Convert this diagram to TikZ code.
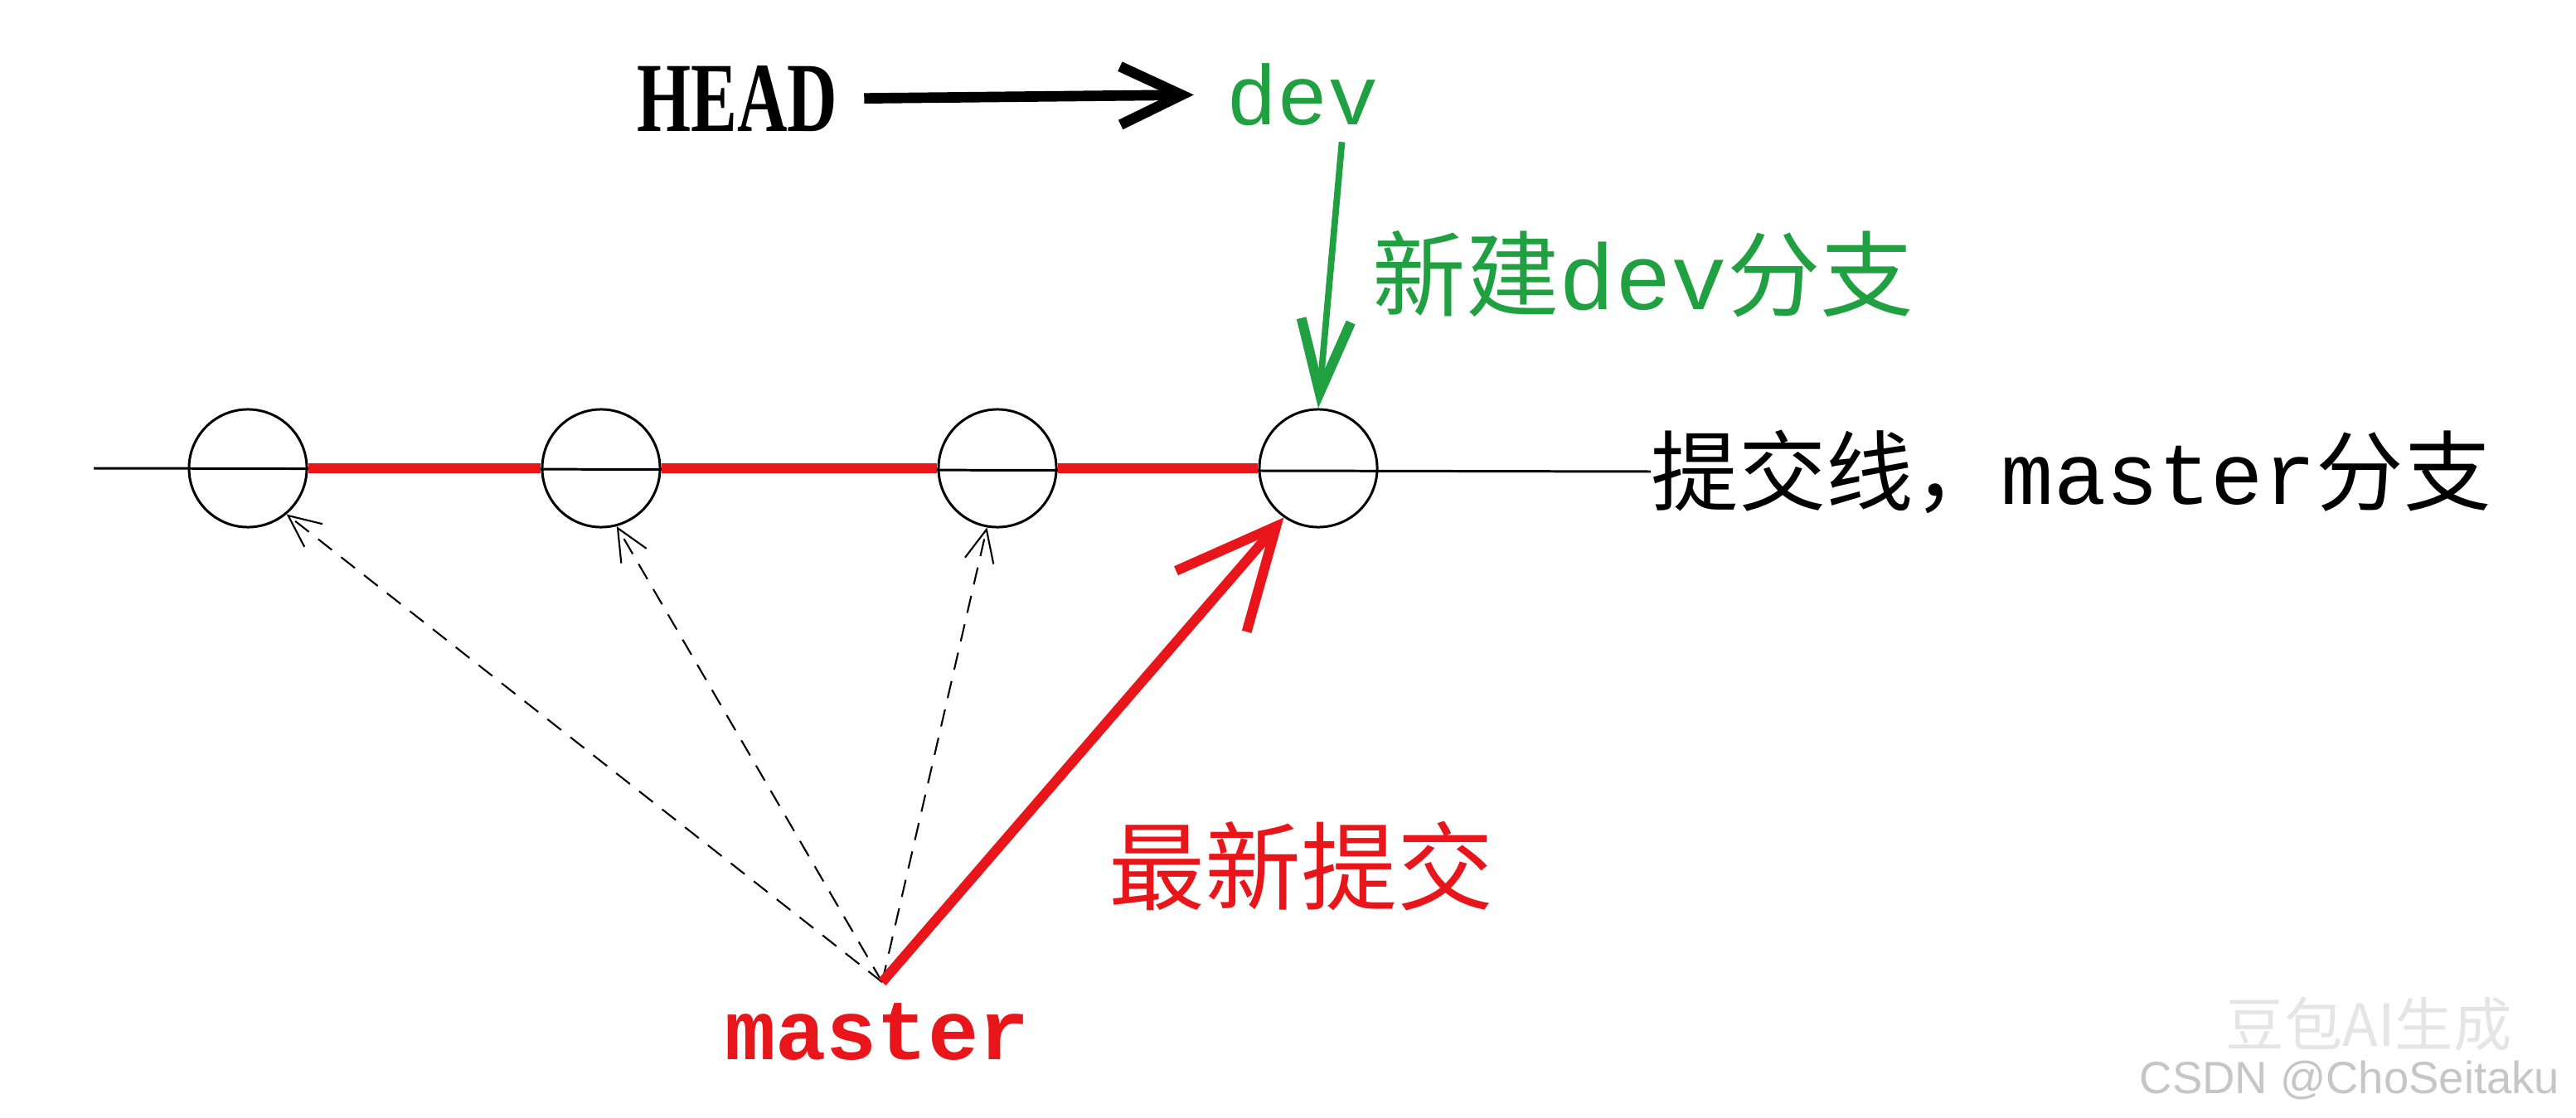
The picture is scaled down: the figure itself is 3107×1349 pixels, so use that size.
\documentclass[tikz,border=0pt]{standalone}
\usepackage{fontspec}
\setmainfont{Liberation Serif}
\setmonofont{Liberation Mono}
\newfontfamily\cjk{Noto Sans CJK SC}
\newfontfamily\wmfont{Liberation Sans}
\definecolor{cred}{HTML}{E8161A}
\definecolor{cgreen}{HTML}{20A040}
\usetikzlibrary{arrows.meta}
\tikzstyle{commit} = [draw, circle, line width=0.85pt, minimum size=1.42cm]
\tikzstyle{hist} = [line width=0.6pt, dash pattern=on 6pt off 4pt, -{Straight Barb[length=11pt,width=10pt]}]
\tikzstyle{newest} = [cred, line width=3.4pt, -{Straight Barb[length=34pt,width=32pt]}]

\begin{document}
\begin{tikzpicture}[
  x=0.01cm, y=-0.01cm,
  every node/.style={inner sep=0pt},
  big/.style={font=\cjk\fontsize{#1}{#1}\selectfont},
]
\useasboundingbox (0,0) rectangle (3107,1349);

% commit line
\node[commit] (c1) at (299,565) {};
\node[commit] (c2) at (725,565) {};
\node[commit] (c3) at (1203,565) {};
\node[commit] (c4) at (1590,565) {};
\coordinate (start) at (113,565);
\node[big=30, anchor=west] (line) at (1991,569)
  {提交线，{\ttfamily master}分支};
\draw[line width=0.85pt] (start) -- (line.west);
\draw[cred, line width=3.4pt] (c1.east) -- (c2.west);
\draw[cred, line width=3.4pt] (c2.east) -- (c3.west);
\draw[cred, line width=3.4pt] (c3.east) -- (c4.west);

% HEAD -> dev
\node[font=\bfseries\fontsize{34}{36}\selectfont] (head) at (889,119)
  {\scalebox{0.7}[1]{HEAD}};
\node[cgreen, font=\ttfamily\fontsize{29}{30}\selectfont] (dev) at (1571,114) {dev};
\draw[line width=3.6pt, shorten <=9pt, shorten >=11pt,
  -{Straight Barb[length=21pt,width=20pt]}] (head.east) -- (dev.west);
\draw[cgreen, line width=2.2pt, -{Straight Barb[length=25pt,width=17pt,line width=3.4pt]}]
  ([shift={(-45,19)}]dev.south east) -- (c4.north);
\node[cgreen, big=32, anchor=west] (newdev) at (1655,331)
  {新建{\ttfamily dev}分支};

% master
\coordinate (m) at (1064,1185);
\node[cred, font=\ttfamily\bfseries\fontsize{29}{30}\selectfont] (master) at (1058,1245) {master};
\draw[hist] (m) -- (c1.-50);
\draw[hist] (m) -- (c2.-75);
\draw[hist] (m) -- (c3.-100);
\draw[newest] (m) -- (c4.-125);
\node[cred, big=33, anchor=west] (latest) at (1337,1045) {最新提交};

% watermark
\node[text=gray!20, big=20] (wm1) at (2857,1236) {豆包AI生成};
\node[text=gray!45, font=\wmfont\fontsize{15.5}{16}\selectfont] (wm2) at (2834,1304)
  {CSDN @ChoSeitaku};
\end{tikzpicture}
\end{document}
